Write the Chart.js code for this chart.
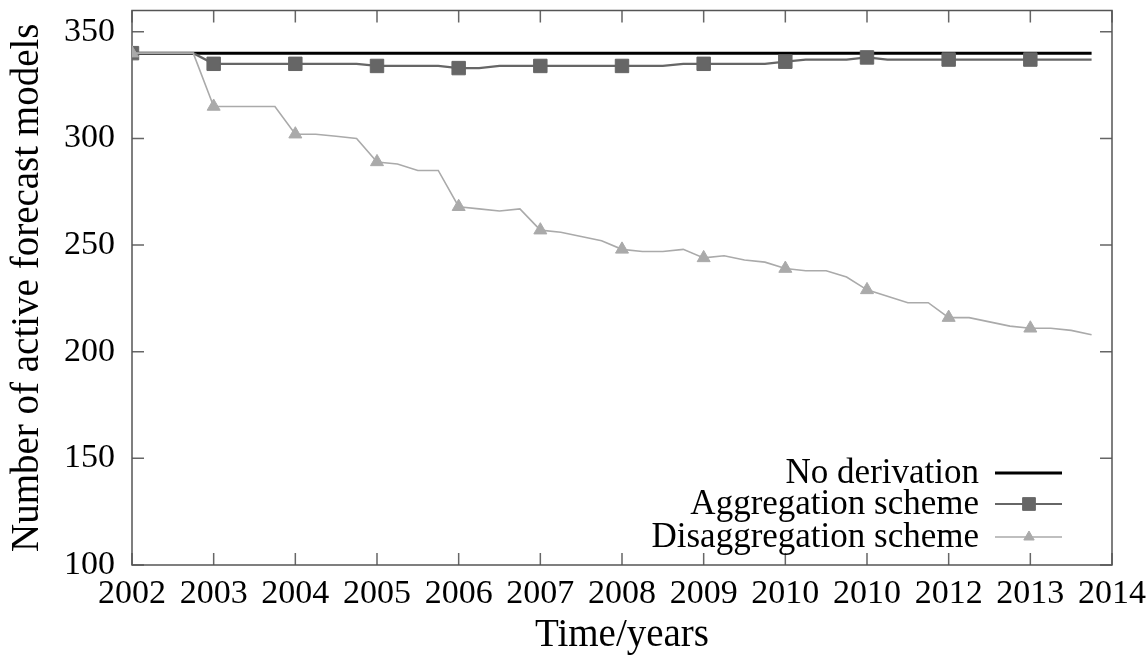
<!DOCTYPE html>
<html>
<head>
<meta charset="utf-8">
<title>Active forecast models</title>
<script src="https://cdn.jsdelivr.net/npm/chart.js@4.4.1/dist/chart.umd.min.js"></script>
<style>
  html, body { margin: 0; padding: 0; background: #ffffff; }
  canvas { display: block; }
</style>
</head>
<body>
<canvas id="chart" width="1148" height="658"></canvas>
<script>
// quarterly time points
const quarters = [
  2002, 2002.25, 2002.5, 2002.75, 2003, 2003.25, 2003.5, 2003.75,
  2004, 2004.25, 2004.5, 2004.75, 2005, 2005.25, 2005.5, 2005.75,
  2006, 2006.25, 2006.5, 2006.75, 2007, 2007.25, 2007.5, 2007.75,
  2008, 2008.25, 2008.5, 2008.75, 2009, 2009.25, 2009.5, 2009.75,
  2010, 2010.25, 2010.5, 2010.75, 2011, 2011.25, 2011.5, 2011.75,
  2012, 2012.25, 2012.5, 2012.75, 2013, 2013.25, 2013.5, 2013.75
];

const noDerivationX = [2002, 2013.75];
const noDerivation = [340, 340];

const aggregation = [
  340, 340, 340, 340, 335, 335, 335, 335,
  335, 335, 335, 335, 334, 334, 334, 334,
  333, 333, 334, 334, 334, 334, 334, 334,
  334, 334, 334, 335, 335, 335, 335, 335,
  336, 337, 337, 337, 338, 337, 337, 337,
  337, 337, 337, 337, 337, 337, 337, 337
];

const disaggregation = [
  340, 340, 340, 340, 315, 315, 315, 315,
  302, 302, 301, 300, 289, 288, 285, 285,
  268, 267, 266, 267, 257, 256, 254, 252,
  248, 247, 247, 248, 244, 245, 243, 242,
  239, 238, 238, 235, 229, 226, 223, 223,
  216, 216, 214, 212, 211, 211, 210, 208
];

const xTickValues = [2002, 2003, 2004, 2005, 2006, 2007, 2008, 2009, 2010, 2011, 2012, 2013, 2014];
const xTickLabels = ['2002', '2003', '2004', '2005', '2006', '2007', '2008', '2009', '2010', '2010', '2012', '2013', '2014'];
const yTickValues = [100, 150, 200, 250, 300, 350];

const seriesNames = ['No derivation', 'Aggregation scheme', 'Disaggregation scheme'];

const serif = '"Liberation Serif", "Times New Roman", serif';
Chart.defaults.font.family = serif;
Chart.defaults.color = '#000000';

function toPoints(xs, ys) {
  return xs.map((x, i) => ({ x: x, y: ys[i] }));
}

// a marker on each whole year only
function yearMarker(r) {
  return (ctx) => (ctx.dataIndex % 4 === 0 ? r : 0);
}

// box round the plot, with ticks pointing inward on all four sides
const frame = {
  id: 'frame',
  beforeDatasetsDraw(chart) {
    const { ctx, chartArea: a, scales } = chart;
    const len = 12;
    ctx.save();
    ctx.strokeStyle = '#666666';
    ctx.lineWidth = 1.5;
    ctx.beginPath();
    xTickValues.forEach(v => {
      const px = scales.x.getPixelForValue(v);
      ctx.moveTo(px, a.bottom); ctx.lineTo(px, a.bottom - len);
      ctx.moveTo(px, a.top); ctx.lineTo(px, a.top + len);
    });
    yTickValues.forEach(v => {
      const py = scales.y.getPixelForValue(v);
      ctx.moveTo(a.left, py); ctx.lineTo(a.left + len, py);
      ctx.moveTo(a.right, py); ctx.lineTo(a.right - len, py);
    });
    ctx.stroke();
    ctx.strokeStyle = '#555555';
    ctx.strokeRect(a.left, a.top, a.right - a.left, a.bottom - a.top);
    ctx.restore();
  }
};

// gnuplot style key: text right aligned, sample on its right
const key = {
  id: 'key',
  afterDatasetsDraw(chart) {
    const { ctx, chartArea: a } = chart;
    const rows = [a.bottom - 92, a.bottom - 61, a.bottom - 28];
    ctx.save();
    ctx.font = '35px ' + serif;
    ctx.textAlign = 'right';
    ctx.textBaseline = 'middle';
    chart.data.datasets.forEach((ds, i) => {
      const y = rows[i];
      ctx.fillStyle = '#000000';
      ctx.fillText(ds.label, a.right - 133, y + 1);
      ctx.strokeStyle = ds.borderColor;
      ctx.lineWidth = ds.borderWidth;
      ctx.beginPath();
      ctx.moveTo(a.right - 117, y);
      ctx.lineTo(a.right - 50, y);
      ctx.stroke();
      if (ds.keyPoint) {
        ctx.fillStyle = ds.pointBackgroundColor;
        ctx.strokeStyle = ds.pointBackgroundColor;
        ctx.lineWidth = 1;
        Chart.helpers.drawPoint(ctx, { pointStyle: ds.pointStyle, radius: ds.keyPoint, borderWidth: 1 }, a.right - 83, y);
      }
    });
    ctx.restore();
  }
};

new Chart(document.getElementById('chart'), {
  type: 'line',
  data: {
    datasets: [
      {
        label: seriesNames[0],
        data: toPoints(noDerivationX, noDerivation),
        borderColor: '#000000',
        borderWidth: 3,
        pointRadius: 0,
        order: 2
      },
      {
        label: seriesNames[1],
        data: toPoints(quarters, aggregation),
        borderColor: '#666666',
        borderWidth: 2.2,
        pointStyle: 'rect',
        pointRadius: yearMarker(9.5),
        pointBackgroundColor: '#666666',
        pointBorderColor: '#666666',
        pointBorderWidth: 1,
        keyPoint: 9,
        order: 1
      },
      {
        label: seriesNames[2],
        data: toPoints(quarters, disaggregation),
        borderColor: '#aaaaaa',
        borderWidth: 1.6,
        pointStyle: 'triangle',
        pointRadius: yearMarker(7.5),
        pointBackgroundColor: '#aaaaaa',
        pointBorderColor: '#aaaaaa',
        pointBorderWidth: 1,
        keyPoint: 6,
        order: 0
      }
    ]
  },
  options: {
    responsive: false,
    animation: false,
    layout: { padding: { top: 7, right: 36, left: 0, bottom: 0 } },
    plugins: {
      legend: { display: false },
      tooltip: { enabled: false }
    },
    elements: { line: { tension: 0 } },
    scales: {
      x: {
        type: 'linear',
        min: 2002,
        max: 2014,
        afterBuildTicks(scale) { scale.ticks = xTickValues.map(v => ({ value: v })); },
        afterFit(scale) {
          scale.height = 93;
          scale.paddingLeft = 0;
          scale.paddingRight = 0;
        },
        grid: { display: false, drawTicks: false },
        border: { display: false },
        ticks: {
          padding: 9,
          maxRotation: 0,
          autoSkip: false,
          font: { size: 34 },
          callback: (v) => xTickLabels[xTickValues.indexOf(v)]
        },
        title: {
          display: true,
          text: 'Time/years',
          font: { size: 39 },
          padding: { top: 0, bottom: -1 }
        }
      },
      y: {
        min: 100,
        max: 360,
        afterBuildTicks(scale) { scale.ticks = yTickValues.map(v => ({ value: v })); },
        afterFit(scale) {
          scale.width = 132;
          scale.paddingTop = 0;
          scale.paddingBottom = 0;
        },
        grid: { display: false, drawTicks: false },
        border: { display: false },
        ticks: {
          padding: 17,
          font: { size: 34 }
        },
        title: {
          display: true,
          text: 'Number of active forecast models',
          font: { size: 39 },
          padding: { top: 4, bottom: 0 }
        }
      }
    }
  },
  plugins: [frame, key]
});
</script>
</body>
</html>
